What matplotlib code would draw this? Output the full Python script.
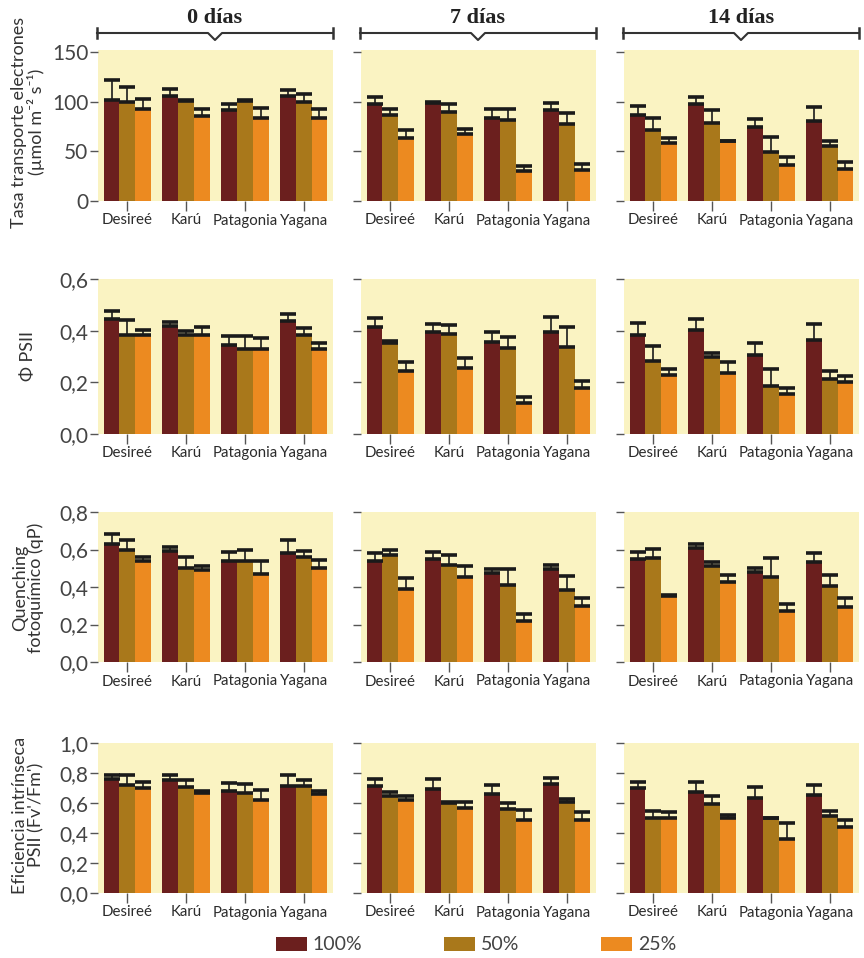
import matplotlib
matplotlib.use("Agg")
import matplotlib.pyplot as plt
import numpy as np
from matplotlib.lines import Line2D
from matplotlib.ticker import FixedLocator, FuncFormatter

FONT = ["Lato", "DejaVu Sans"]
plt.rcParams["font.family"] = FONT

W, H = 864, 958

CULTIVARS = ["Desireé", "Karú", "Patagonia", "Yagana"]
DAYS = ["0 días", "7 días", "14 días"]
TREATMENTS = ["100%", "50%", "25%"]
COLORS = ["#6B1F1E", "#A9781B", "#EC8A20"]

# rows: 100%, 50%, 25% ; columns: cultivars
ETR_0 = [[102, 106, 92, 106], [100, 101, 101, 100], [93, 86, 84, 84]]
ETR_0_ERR = [[20, 7, 6, 6], [15, 1, 1, 8], [10, 7, 10, 9]]
ETR_7 = [[98, 99, 83.5, 91.5], [87, 90, 81.5, 78], [63, 67, 30.5, 31.5]]
ETR_7_ERR = [[7, 1, 9, 7], [5.6, 8, 11, 11], [8, 5.6, 5, 6]]
ETR_14 = [[87, 98, 74, 80.5], [71.5, 79, 49, 55.5], [58, 60, 36.5, 32.5]]
ETR_14_ERR = [[9, 7, 9, 14], [12, 12.5, 15, 5], [5.5, 0.5, 8, 7]]

PHI_0 = [[0.447, 0.417, 0.346, 0.437], [0.382, 0.382, 0.329, 0.382], [0.382, 0.382, 0.329, 0.329]]
PHI_0_ERR = [[0.030, 0.015, 0.034, 0.026], [0.059, 0.016, 0.049, 0.029], [0.022, 0.033, 0.044, 0.024]]
PHI_7 = [[0.413, 0.393, 0.358, 0.393], [0.351, 0.387, 0.334, 0.338], [0.242, 0.256, 0.121, 0.177]]
PHI_7_ERR = [[0.035, 0.033, 0.038, 0.059], [0.009, 0.035, 0.043, 0.075], [0.036, 0.038, 0.021, 0.030]]
PHI_14 = [[0.382, 0.401, 0.307, 0.362], [0.284, 0.297, 0.186, 0.212], [0.229, 0.238, 0.154, 0.203]]
PHI_14_ERR = [[0.049, 0.043, 0.045, 0.065], [0.055, 0.016, 0.065, 0.033], [0.022, 0.039, 0.023, 0.020]]

QP_0 = [[0.632, 0.591, 0.540, 0.579], [0.596, 0.503, 0.540, 0.558], [0.540, 0.490, 0.469, 0.504]]
QP_0_ERR = [[0.053, 0.023, 0.046, 0.071], [0.057, 0.058, 0.056, 0.035], [0.018, 0.023, 0.069, 0.039]]
QP_7 = [[0.541, 0.550, 0.474, 0.497], [0.573, 0.520, 0.409, 0.386], [0.392, 0.453, 0.219, 0.300]]
QP_7_ERR = [[0.039, 0.035, 0.023, 0.018], [0.025, 0.053, 0.087, 0.074], [0.056, 0.057, 0.037, 0.039]]
QP_14 = [[0.548, 0.606, 0.482, 0.531], [0.557, 0.513, 0.452, 0.408], [0.350, 0.429, 0.272, 0.293]]
QP_14_ERR = [[0.039, 0.025, 0.022, 0.052], [0.048, 0.018, 0.105, 0.058], [0.010, 0.035, 0.036, 0.048]]

FVFM_0 = [[0.763, 0.752, 0.681, 0.715], [0.719, 0.704, 0.668, 0.715], [0.701, 0.664, 0.619, 0.659]]
FVFM_0_ERR = [[0.022, 0.038, 0.054, 0.070], [0.071, 0.048, 0.058, 0.037], [0.040, 0.017, 0.067, 0.022]]
FVFM_7 = [[0.716, 0.694, 0.663, 0.729], [0.650, 0.602, 0.562, 0.610], [0.617, 0.565, 0.488, 0.488]]
FVFM_7_ERR = [[0.043, 0.067, 0.059, 0.041], [0.022, 0.006, 0.040, 0.014], [0.029, 0.041, 0.063, 0.052]]
FVFM_14 = [[0.698, 0.674, 0.631, 0.652], [0.497, 0.594, 0.497, 0.512], [0.497, 0.497, 0.363, 0.438]]
FVFM_14_ERR = [[0.043, 0.067, 0.077, 0.067], [0.047, 0.050, 0.004, 0.032], [0.043, 0.026, 0.101, 0.052]]

YLABELS = [
    "Tasa transporte electrones\n(µmol m⁻² s⁻¹)",
    "Φ PSII",
    "Quenching\nfotoquímico (qP)",
    "Eficiencia intrínseca\nPSII (Fv'/Fm')",
]
YTICKS = [[0, 50, 100, 150], [0, 0.2, 0.4, 0.6], [0, 0.2, 0.4, 0.6, 0.8], [0, 0.2, 0.4, 0.6, 0.8, 1.0]]
YLIMS = [(0, 152), (0, 0.6), (0, 0.8), (0, 1.0)]

ROWS = [
    [(ETR_0, ETR_0_ERR), (ETR_7, ETR_7_ERR), (ETR_14, ETR_14_ERR)],
    [(PHI_0, PHI_0_ERR), (PHI_7, PHI_7_ERR), (PHI_14, PHI_14_ERR)],
    [(QP_0, QP_0_ERR), (QP_7, QP_7_ERR), (QP_14, QP_14_ERR)],
    [(FVFM_0, FVFM_0_ERR), (FVFM_7, FVFM_7_ERR), (FVFM_14, FVFM_14_ERR)],
]

# layout in pixels (top-left origin)
COL_LEFT = [98, 361, 624]
COL_W = 235
ROW_TOP = [50, 279, 512, 743]
ROW_BOT = [201, 434, 662, 893]
YLABEL_Y = [122, 356, 588, 815]

BG = "#FAF3C2"
TXT = "#2b2b2b"


def px_rect(x0, y0, x1, y1):
    return [x0 / W, 1 - y1 / H, (x1 - x0) / W, (y1 - y0) / H]


def fmt_comma(v, _pos):
    return f"{v:.1f}".replace(".", ",")


fig = plt.figure(figsize=(W / 100, H / 100), dpi=100)
fig.patch.set_facecolor("white")

bar_w = 0.27
x = np.arange(len(CULTIVARS))
handles = []

for r, row in enumerate(ROWS):
    for c, (means, errs) in enumerate(row):
        ax = fig.add_axes(px_rect(COL_LEFT[c], ROW_TOP[r], COL_LEFT[c] + COL_W, ROW_BOT[r]))
        ax.set_facecolor(BG)
        for t in range(3):
            pos = x + (t - 1) * bar_w
            b = ax.bar(pos, means[t], width=bar_w, color=COLORS[t], linewidth=0, zorder=2)
            ax.errorbar(pos, means[t], yerr=[np.zeros(4), errs[t]], fmt="none",
                        ecolor="#1a1a1a", elinewidth=1.2, capsize=5.5, capthick=2.6, zorder=3)
            if r == 0 and c == 0:
                handles.append(b)
        ax.set_xlim(-0.5, 3.5)
        ax.set_ylim(*YLIMS[r])
        for s in ax.spines.values():
            s.set_visible(False)
        ax.set_xticks(x)
        ax.set_xticklabels(CULTIVARS, fontsize=10.8, color=TXT)
        ax.yaxis.set_major_locator(FixedLocator(YTICKS[r]))
        if r == 0:
            ax.yaxis.set_major_formatter(FuncFormatter(lambda v, p: f"{v:.0f}"))
        else:
            ax.yaxis.set_major_formatter(FuncFormatter(fmt_comma))
        ax.tick_params(axis="x", length=7, width=1, color="#555555", pad=2)
        ax.tick_params(axis="y", length=6, width=1, color="#555555", pad=1,
                       labelsize=15, labelcolor="#444444", labelleft=(c == 0))

# overlay in pixel coordinates for the brackets and labels
ov = fig.add_axes([0, 0, 1, 1], zorder=-1)
ov.set_xlim(0, W)
ov.set_ylim(H, 0)
ov.axis("off")

for c, day in enumerate(DAYS):
    x0, x1 = COL_LEFT[c] - 1, COL_LEFT[c] + COL_W
    xm = 0.5 * (x0 + x1)
    ov.add_line(Line2D([x0, xm - 7, xm, xm + 7, x1], [33, 33, 40, 33, 33], color="#333333", lw=1.5))
    ov.add_line(Line2D([x0, x0], [28, 38], color="#333333", lw=1.8))
    ov.add_line(Line2D([x1, x1], [28, 38], color="#333333", lw=1.8))
    ov.text(xm, 18, day, ha="center", va="center", fontsize=16, fontweight="bold",
            family=["Liberation Serif", "DejaVu Serif"], color="#222222")

for r, lab in enumerate(YLABELS):
    ov.text(28, YLABEL_Y[r], lab, rotation=90, ha="center", va="center", fontsize=13,
            color="#333333", linespacing=1.0)

fig.legend(handles, TREATMENTS, loc="center left", bbox_to_anchor=(266 / W, 1 - 945 / H),
           ncol=3, frameon=False, fontsize=14, handlelength=1.6, handleheight=0.75,
           handletextpad=0.3, columnspacing=4.2, labelcolor="#444444", borderpad=0)

fig.savefig("out.png", dpi=100)
